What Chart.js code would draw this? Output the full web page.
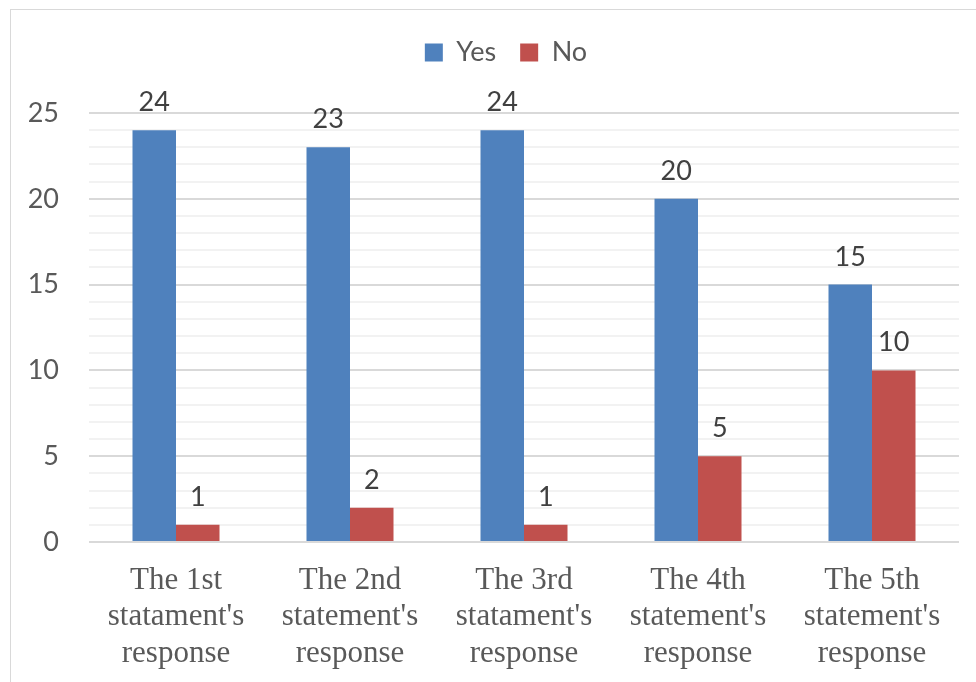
<!DOCTYPE html>
<html>
<head>
<meta charset="utf-8">
<script src="https://cdn.jsdelivr.net/npm/chart.js@4.4.0/dist/chart.umd.min.js"></script>
<style>
  html, body { margin: 0; padding: 0; background: #fff; overflow: hidden; width: 976px; height: 682px; }
  #box { position: absolute; left: 10px; top: 9px; width: 965px; height: 672px; border: 1px solid #d9d9d9; }
  canvas { display: block; }
</style>
</head>
<body>
<div id="box"><canvas id="c" width="965" height="672"></canvas></div>
<script>
const categories = [
  ["The 1st", "statament's", "response"],
  ["The 2nd", "statement's", "response"],
  ["The 3rd", "statament's", "response"],
  ["The 4th", "statement's", "response"],
  ["The 5th", "statement's", "response"]
];
const yesValues = [24, 23, 24, 20, 15];
const noValues = [1, 2, 1, 5, 10];
const seriesNames = ["Yes", "No"];
const yMax = 25;

const valueLabels = {
  id: 'valueLabels',
  afterDatasetsDraw(chart) {
    const ctx = chart.ctx;
    ctx.save();
    ctx.font = '27px Lato';
    ctx.fillStyle = '#404040';
    ctx.textAlign = 'center';
    ctx.textBaseline = 'alphabetic';
    chart.data.datasets.forEach((ds, i) => {
      const meta = chart.getDatasetMeta(i);
      meta.data.forEach((el, j) => {
        ctx.fillText(String(ds.data[j]), el.x, el.y - 19);
      });
    });
    ctx.restore();
  }
};

const legendSpace = {
  id: 'legendSpace',
  beforeInit(chart) {
    const orig = chart.legend.fit;
    chart.legend.fit = function () {
      orig.call(this);
      this.height += 37;
    };
  },
  afterLayout(chart) {
    chart.legend.left += 21;
    chart.legend.right += 21;
  }
};

new Chart(document.getElementById('c'), {
  type: 'bar',
  data: {
    labels: categories,
    datasets: [
      { label: seriesNames[0], data: yesValues, backgroundColor: '#4f81bd', categoryPercentage: 0.5, barPercentage: 1.0 },
      { label: seriesNames[1], data: noValues, backgroundColor: '#c0504d', categoryPercentage: 0.5, barPercentage: 1.0 }
    ]
  },
  options: {
    responsive: false,
    animation: false,
    layout: { padding: { left: 0, right: 17, top: 5, bottom: 0 } },
    plugins: {
      legend: {
        position: 'top',
        labels: {
          font: { family: 'Lato', size: 27 },
          color: '#595959',
          boxWidth: 18,
          boxHeight: 18,
          padding: 24,
          useBorderRadius: false
        }
      },
      tooltip: { enabled: false }
    },
    scales: {
      x: {
        grid: { display: false },
        border: { display: false },
        ticks: {
          font: { family: 'Liberation Serif', size: 31, lineHeight: 1.19 },
          color: '#595959',
          padding: 12,
          maxRotation: 0,
          autoSkip: false
        },
        afterFit(scale) { scale.height = 140; }
      },
      y: {
        min: 0,
        max: yMax,
        border: { display: false },
        grid: {
          color: (c) => (c.tick && c.tick.value % 5 === 0) ? '#d9d9d9' : '#f2f2f2',
          lineWidth: 2,
          drawTicks: false
        },
        ticks: {
          stepSize: 1,
          autoSkip: false,
          font: { family: 'Lato', size: 27 },
          color: '#595959',
          padding: 30,
          callback: (v) => (v % 5 === 0 ? String(v) : '')
        },
        afterFit(scale) { scale.width = 78; }
      }
    }
  },
  plugins: [valueLabels, legendSpace]
});
</script>
</body>
</html>
